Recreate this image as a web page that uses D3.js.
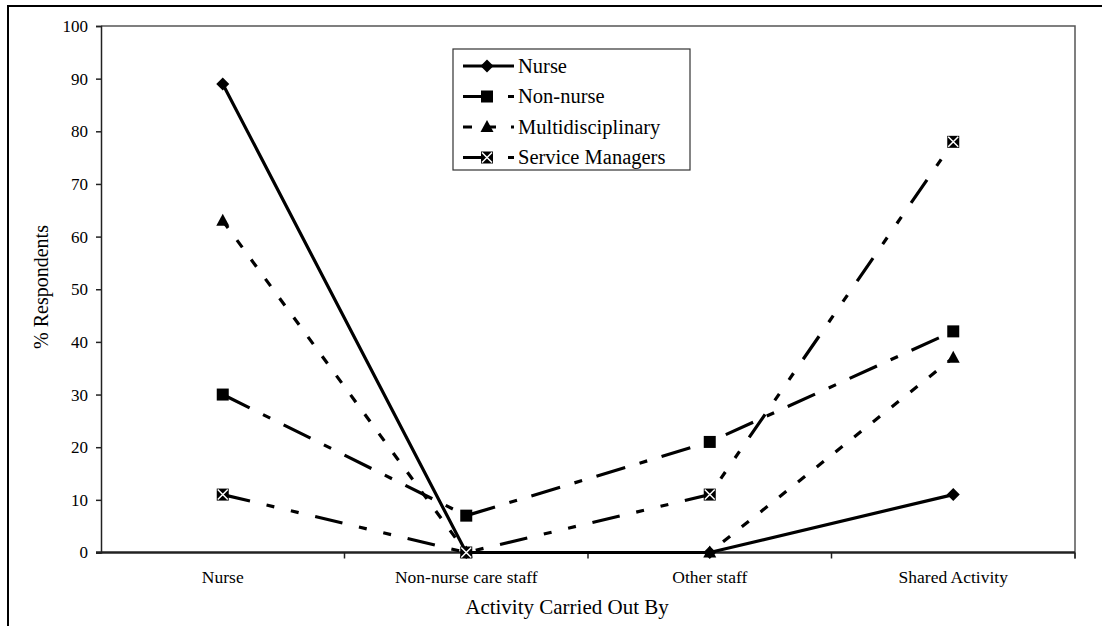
<!DOCTYPE html>
<html>
<head>
<meta charset="utf-8">
<script src="https://cdn.jsdelivr.net/npm/d3@7"></script>
<style>
  html, body { margin: 0; padding: 0; background: #fff; }
  svg { display: block; }
  svg text { font-family: "Liberation Serif", "Times New Roman", "DejaVu Serif", serif; fill: #000; }
</style>
</head>
<body>
<svg id="chart" width="1102" height="626"></svg>
<script>
// Who carries out the activity, by respondent group (% of respondents)
const categories = ["Nurse", "Non-nurse care staff", "Other staff", "Shared Activity"];
const seriesNames = ["Nurse", "Non-nurse", "Multidisciplinary", "Service Managers"];
const nurseValues = [89, 0, 0, 11];
const nonNurseValues = [30, 7, 21, 42];
const multiValues = [63, 0, 0, 37];
const managerValues = [11, 0, 11, 78];
const yTicks = [0, 10, 20, 30, 40, 50, 60, 70, 80, 90, 100];

const FONT = '"Liberation Serif", "Times New Roman", "DejaVu Serif", serif';

const series = [
  { name: seriesNames[0], values: nurseValues, dash: null, marker: "diamond" },
  { name: seriesNames[1], values: nonNurseValues, dash: "30,15,8,15", marker: "square" },
  { name: seriesNames[2], values: multiValues, dash: "9,15", marker: "triangle" },
  { name: seriesNames[3], values: managerValues, dash: "28,17,8,17,8,17", marker: "xsquare" }
];

const svg = d3.select("#chart").attr("font-family", FONT);
const plot = { left: 101, right: 1075, top: 26, bottom: 552.5 };

// outer frame
svg.append("rect")
  .attr("x", 8).attr("y", 6).attr("width", 1300).attr("height", 1000)
  .attr("fill", "none").attr("stroke", "#000").attr("stroke-width", 2);

const x = d3.scaleBand().domain(categories).range([plot.left, plot.right]).padding(0);
const y = d3.scaleLinear().domain([0, 100]).range([plot.bottom, plot.top]);

// plot area frame (top and right edges)
svg.append("path")
  .attr("d", `M${plot.left},${plot.top}H${plot.right}V${plot.bottom + 6}`)
  .attr("fill", "none").attr("stroke", "#555").attr("stroke-width", 1.5);

// y axis
const yAxis = svg.append("g")
  .attr("transform", `translate(${plot.left},0)`)
  .call(d3.axisLeft(y).tickValues(yTicks).tickSize(5).tickPadding(8));
yAxis.attr("font-family", FONT).attr("font-size", 17);
yAxis.select(".domain").attr("stroke", "#222").attr("stroke-width", 1.5);
yAxis.selectAll(".tick line").attr("stroke", "#222").attr("stroke-width", 1.5);
yAxis.selectAll("text").attr("fill", "#000");

// x axis: ticks sit on category boundaries
const xAxis = svg.append("g")
  .attr("transform", `translate(0,${plot.bottom})`)
  .call(d3.axisBottom(x).tickSize(0).tickPadding(18));
xAxis.attr("font-family", FONT).attr("font-size", 17.5);
xAxis.select(".domain").remove();
xAxis.selectAll("text").attr("fill", "#000");
const boundaries = categories.map(c => x(c)).concat([x.range()[1]]);
svg.append("g").selectAll("line").data(boundaries.slice(1)).join("line")
  .attr("x1", d => d).attr("x2", d => d)
  .attr("y1", plot.bottom).attr("y2", plot.bottom + 6)
  .attr("stroke", "#222").attr("stroke-width", 1.5);
svg.append("line")
  .attr("x1", plot.left - 5).attr("x2", plot.right)
  .attr("y1", plot.bottom).attr("y2", plot.bottom)
  .attr("stroke", "#222").attr("stroke-width", 2.5);

// axis titles, centred on the chart area
svg.append("text")
  .attr("x", 567).attr("y", 614)
  .attr("text-anchor", "middle").attr("font-size", 21)
  .text("Activity Carried Out By");
svg.append("text")
  .attr("transform", "translate(48,287) rotate(-90)")
  .attr("text-anchor", "middle").attr("font-size", 20)
  .text("% Respondents");

// marker drawing
function drawMarker(g, type, cx, cy) {
  if (type === "diamond") {
    g.append("path").attr("d", `M${cx},${cy - 6.5}L${cx + 6.5},${cy}L${cx},${cy + 6.5}L${cx - 6.5},${cy}Z`)
      .attr("fill", "#000");
  } else if (type === "square") {
    g.append("rect").attr("x", cx - 6).attr("y", cy - 6).attr("width", 12).attr("height", 12).attr("fill", "#000");
  } else if (type === "triangle") {
    g.append("path").attr("d", `M${cx},${cy - 7}L${cx + 6.5},${cy + 5}L${cx - 6.5},${cy + 5}Z`).attr("fill", "#000");
  } else if (type === "xsquare") {
    g.append("rect").attr("x", cx - 6).attr("y", cy - 6).attr("width", 12).attr("height", 12).attr("fill", "#000");
    g.append("path").attr("d", `M${cx - 5},${cy - 5}L${cx + 5},${cy + 5}M${cx + 5},${cy - 5}L${cx - 5},${cy + 5}`)
      .attr("stroke", "#fff").attr("stroke-width", 1.5);
  }
}

const line = d3.line()
  .x((d, i) => x(categories[i]) + x.bandwidth() / 2)
  .y(d => y(d));

series.forEach(s => {
  const g = svg.append("g");
  g.append("path")
    .attr("d", line(s.values))
    .attr("fill", "none").attr("stroke", "#000").attr("stroke-width", 3.2)
    .attr("stroke-dasharray", s.dash);
  s.values.forEach((v, i) => drawMarker(g, s.marker, x(categories[i]) + x.bandwidth() / 2, y(v)));
});

// legend
const legend = svg.append("g");
legend.append("rect")
  .attr("x", 453).attr("y", 49).attr("width", 237).attr("height", 121)
  .attr("fill", "#fff").attr("stroke", "#333").attr("stroke-width", 1.2);
series.forEach((s, i) => {
  const cy = 66 + i * 30.5;
  legend.append("line")
    .attr("x1", 463).attr("x2", 514).attr("y1", cy).attr("y2", cy)
    .attr("stroke", "#000").attr("stroke-width", 3.2)
    .attr("stroke-dasharray", s.dash);
  drawMarker(legend, s.marker, 487, cy);
  legend.append("text")
    .attr("x", 518).attr("y", cy + 6.5)
    .attr("font-size", 20.5)
    .text(s.name);
});
</script>
</body>
</html>
